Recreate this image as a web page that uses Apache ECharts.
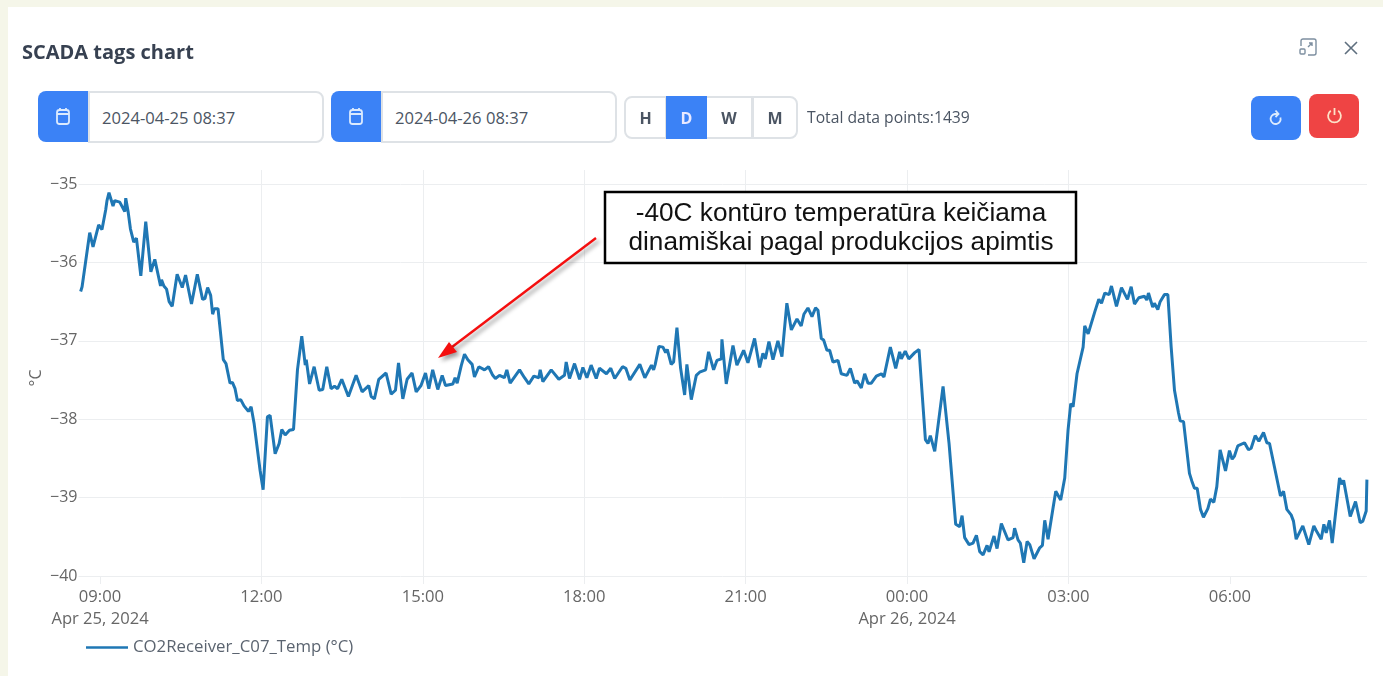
<!DOCTYPE html>
<html lang="en">
<head>
	<meta charset="UTF-8">
	<title>SCADA tags chart</title>
	<script src="https://cdn.jsdelivr.net/npm/echarts@6/dist/echarts.min.js"></script>
	<style>
		html, body {margin: 0; padding: 0; width: 1383px; height: 676px; overflow: hidden; background: #f5f6e9; font-family: "Open Sans", sans-serif;}
		.panel {position: absolute; left: 8px; top: 7px; width: 1375px; height: 669px; background: #fff;}
		#charts {position: absolute; left: 0; top: 0; width: 1383px; height: 676px;}
		.ui {position: absolute; box-sizing: border-box;}
		.title {left: 22px; top: 40px; font-size: 20px; font-weight: 700; color: #374151; line-height: 24px; white-space: nowrap;}
		.cal {width: 50px; height: 51px; top: 91px; background: #3b82f6; border-radius: 8px 0 0 8px; display: flex; align-items: center; justify-content: center;}
		.date {top: 91px; height: 52px; width: 236px; border: 2px solid #dee2e6; border-radius: 0 8px 8px 0; font-size: 16.6px; color: #4b5563; line-height: 49px; padding-left: 12px; background: #fff; white-space: nowrap;}
		.seg {top: 96px; height: 43px; border: 2px solid #dee2e6; display: flex; align-items: center; justify-content: center; font-size: 16px; font-weight: 700; color: #4b5563; background: #fff;}
		.total {left: 807px; top: 106px; font-size: 15.7px; color: #4b5563; line-height: 22px; white-space: nowrap;}
		.btn {border-radius: 8px; display: flex; align-items: center; justify-content: center;}
	</style>
</head>
<body>
<div class="panel"></div>
<div id="charts"></div>
<div class="ui title">SCADA tags chart</div>
<div class="ui cal" style="left:38px"><svg width="16" height="19" viewBox="0 0 16 19" fill="none" stroke="#dbeafe" stroke-width="1.8"><rect x="2" y="3" width="12" height="14" rx="2.5"/><path d="M2 7h12M5 1v3M11 1v3"/></svg></div>
<div class="ui date" style="left:88px">2024-04-25 08:37</div>
<div class="ui cal" style="left:331px"><svg width="16" height="19" viewBox="0 0 16 19" fill="none" stroke="#dbeafe" stroke-width="1.8"><rect x="2" y="3" width="12" height="14" rx="2.5"/><path d="M2 7h12M5 1v3M11 1v3"/></svg></div>
<div class="ui date" style="left:381px">2024-04-26 08:37</div>
<div class="ui seg" style="left:624px;width:43px;border-radius:8px 0 0 8px">H</div>
<div class="ui seg" style="left:666px;width:41px;background:#3b82f6;border-color:#3b82f6;color:#e8e8ff">D</div>
<div class="ui seg" style="left:707px;width:46px;border-left:0">W</div>
<div class="ui seg" style="left:752px;width:46px;border-radius:0 8px 8px 0">M</div>
<div class="ui total">Total data points:1439</div>
<div class="ui btn" style="left:1251px;top:96px;width:50px;height:44px;background:#3b82f6"><svg width="16" height="18" viewBox="0 0 16 18" fill="none" stroke="#dbeafe" stroke-width="1.8"><path d="M12.4 8.5A5 5 0 1 1 7 5h3"/><path d="M7.5 1.5L10.5 5 7.5 8" /></svg></div>
<div class="ui btn" style="left:1309px;top:94px;width:50px;height:44px;background:#ef4444"><svg width="17" height="18" viewBox="0 0 17 18" fill="none" stroke="#fde2c8" stroke-width="1.8"><path d="M8.5 1v7"/><path d="M4.8 3.8a6.4 6.4 0 1 0 7.4 0"/></svg></div>
<div class="ui" style="left:1299px;top:38px"><svg width="19" height="18" viewBox="0 0 19 18" fill="none" stroke="#7d8fa0" stroke-width="1.4"><path d="M2 8V3a2 2 0 0 1 2-2h11a2 2 0 0 1 2 2v12a2 2 0 0 1-2 2H9"/><rect x="1" y="11" width="5" height="5" rx="1"/><path d="M9 9l4-4M10 5h3v3"/></svg></div>
<div class="ui" style="left:1343px;top:39px"><svg width="16" height="16" viewBox="0 0 16 16" fill="none" stroke="#5f6f7f" stroke-width="1.6"><path d="M2 2l12 12M14 2L2 14"/></svg></div>
<script>
	// minutes after 2024-04-25 09:00
	var minutes = [
		-21.6,-20,-11.5,-7.8,-1.5,2.2,6.3,7.8,10,14.5,16.4,22,23.9,27.6,28.7,31.3,33.9,37.6,40.6,45.5,51,56.7,61.1,63,67.5,68.6,71.2,74.2,77.1,80.5,
		86,91.7,95.4,97.6,102,108.5,114.4,117,120,123.4,125.6,127.5,131.6,137.5,140.5,145,147.6,150.6,153.2,156.9,160.6,165.5,168.5,171.8,174,178.5,181.9,186.7,189.7,195.3,
		199.8,202.7,206.5,211.3,215.8,220.2,225,228.9,230,233.7,238.8,244.4,248.4,252.9,257.7,261.5,265,269.6,277,285.6,292.3,299.7,302.4,306,310.9,319,324.7,329.5,332.9,337.7,
		342.5,344.4,348,352.6,358,363,366.7,371,376.7,381.6,385.3,393.5,396,398.3,402.8,406.5,410.2,415,417.6,422.5,428.8,433.3,438,441,445.5,451,453.7,457.4,467.9,473.4,
		478.2,483.8,489.4,490.9,493.9,503.2,511.7,518,519.9,523.6,529.2,534.8,538.5,543,547.7,553.4,557,564.8,569.6,574,582.7,586.4,590.9,602,607.6,615,617.4,619.2,623.3,627.8,
		630.8,632.6,637,639.7,643.4,647.5,652,654.5,659.4,665,668.7,675.4,678.7,684.3,688,692.9,693.6,698.4,705.9,710.3,717.8,722.6,730,735.6,739.3,742,746,750.5,756,760.5,
		766,771,777.3,782,785,789.5,794,798,800.7,804.4,807,810.7,813.7,817.4,823,826.7,833,836.8,841.6,844.2,849,852.8,856.5,860.2,865.8,871.4,874.3,881.4,887.4,891.8,
		893.7,898,902,908.6,913.4,917.1,920.5,923.4,926,930.9,940.2,946.9,954.3,958.8,961.4,964.3,969.2,973.6,977.4,981.1,984.8,989.3,991.5,997,1000.4,1005.2,1012.7,1018.3,1020,1023.8,
		1026.4,1030.2,1033.9,1036.9,1038.7,1041.7,1048,1051,1053.6,1057.3,1059,1062.9,1065.9,1071.4,1075.9,1079.6,1082.6,1085.2,1089.6,1096.4,1098.2,1102,1109.4,1113.9,1116.9,1120.6,1125.4,1128,1133.6,1139.2,
		1145.9,1150,1153.7,1158.5,1164.8,1167.4,1169.3,1174,1175.9,1179.7,1182.3,1187.1,1190.9,1194.6,1198.3,1202.8,1204.7,1208.4,1215,1217.7,1220.6,1223.6,1227.3,1230.6,1235.5,1238.4,1242.2,1245.5,1249.2,1251,
		1255.2,1259.6,1262.6,1265.2,1268.9,1276.4,1280.8,1283.8,1288.3,1292.4,1297.6,1301.3,1304.3,1309.8,1311.7,1316.5,1319.9,1323.6,1328.4,1331,1334,1341.4,1348.1,1353.7,1356.3,1361.9,1364.9,1367.5,1371.2,1374.2,
		1382.4,1385,1386.9,1389.8,1394.3,1400.2,1405.4,1408.4,1412.1,1412.9
	];
	var tempValues = [
		-36.37,-36.31,-35.62,-35.80,-35.52,-35.58,-35.33,-35.21,-35.11,-35.28,-35.21,-35.23,-35.25,-35.35,-35.18,-35.35,-35.57,-35.74,-35.69,-36.17,-35.48,-36.12,-35.96,-35.97,-36.30,-36.22,-36.30,-36.34,-36.50,-36.56,
		-36.15,-36.32,-36.16,-36.15,-36.53,-36.15,-36.47,-36.46,-36.32,-36.42,-36.66,-36.59,-36.59,-37.24,-37.29,-37.54,-37.53,-37.61,-37.76,-37.75,-37.83,-37.90,-37.84,-38.05,-38.05,-38.65,-38.90,-37.97,-37.95,-38.44,
		-38.31,-38.13,-38.20,-38.14,-38.13,-37.37,-36.94,-37.31,-37.24,-37.55,-37.33,-37.63,-37.62,-37.33,-37.61,-37.58,-37.61,-37.49,-37.71,-37.44,-37.65,-37.57,-37.71,-37.74,-37.49,-37.41,-37.68,-37.63,-37.28,-37.74,
		-37.49,-37.47,-37.41,-37.65,-37.57,-37.41,-37.61,-37.37,-37.62,-37.44,-37.57,-37.55,-37.47,-37.54,-37.32,-37.17,-37.24,-37.30,-37.46,-37.33,-37.37,-37.33,-37.44,-37.48,-37.44,-37.47,-37.37,-37.54,-37.37,-37.47,
		-37.55,-37.45,-37.47,-37.37,-37.52,-37.37,-37.49,-37.44,-37.27,-37.48,-37.29,-37.49,-37.34,-37.47,-37.31,-37.48,-37.35,-37.42,-37.35,-37.48,-37.33,-37.35,-37.50,-37.30,-37.47,-37.31,-37.37,-37.30,-37.07,-37.08,
		-37.15,-37.11,-37.30,-37.27,-36.83,-37.35,-37.69,-37.30,-37.75,-37.44,-37.40,-37.37,-37.14,-37.37,-37.25,-37.23,-36.98,-37.55,-37.06,-37.31,-37.12,-37.28,-36.97,-37.34,-37.16,-37.23,-37.01,-37.24,-37.00,-37.20,
		-36.52,-36.86,-36.72,-36.81,-36.66,-36.58,-36.69,-36.58,-36.61,-36.97,-36.99,-37.12,-37.12,-37.27,-37.25,-37.42,-37.44,-37.35,-37.54,-37.51,-37.60,-37.42,-37.54,-37.54,-37.45,-37.42,-37.46,-37.08,-37.35,-37.14,
		-37.23,-37.13,-37.23,-37.15,-37.11,-37.71,-38.26,-38.31,-38.21,-38.41,-37.58,-38.31,-39.34,-39.37,-39.23,-39.51,-39.60,-39.58,-39.48,-39.69,-39.73,-39.61,-39.69,-39.49,-39.65,-39.33,-39.54,-39.51,-39.39,-39.54,
		-39.58,-39.83,-39.56,-39.60,-39.58,-39.78,-39.64,-39.61,-39.29,-39.53,-39.53,-39.13,-38.92,-39.03,-38.75,-38.14,-37.80,-37.84,-37.42,-37.08,-36.81,-36.91,-36.63,-36.47,-36.52,-36.39,-36.41,-36.30,-36.56,-36.32,
		-36.47,-36.31,-36.53,-36.45,-36.43,-36.48,-36.39,-36.57,-36.52,-36.60,-36.50,-36.41,-36.41,-37.08,-37.63,-37.92,-38.02,-38.03,-38.69,-38.79,-38.88,-38.88,-39.15,-39.25,-39.14,-39.02,-39.06,-38.86,-38.39,-38.39,
		-38.66,-38.40,-38.51,-38.47,-38.34,-38.30,-38.39,-38.37,-38.21,-38.28,-38.17,-38.30,-38.31,-38.61,-38.62,-38.98,-38.92,-39.15,-39.22,-39.30,-39.53,-39.36,-39.60,-39.36,-39.42,-39.53,-39.34,-39.45,-39.29,-39.58,
		-38.75,-38.83,-38.78,-38.96,-39.24,-39.05,-39.32,-39.30,-39.17,-38.77
	];
	var seriesName = 'CO2Receiver_C07_Temp (°C)';
	var tickMinutes = [0, 180, 360, 540, 720, 900, 1080, 1260];
	var tickLabels = ['09:00\nApr 25, 2024', '12:00', '15:00', '18:00', '21:00', '00:00\nApr 26, 2024', '03:00', '06:00'];

	var seriesData = [];
	for (var i = 0; i < minutes.length; i++) {
		seriesData.push([minutes[i], tempValues[i]]);
	}

	var charts = echarts.init(document.getElementById('charts'), null, {renderer: 'canvas'});
	charts.setOption({
		animation: false,
		textStyle: {fontFamily: '"Open Sans", sans-serif'},
		grid: {left: 78.5, right: 16, top: 170, bottom: 100},
		legend: {
			left: 86,
			top: 639,
			padding: 0,
			icon: 'path://M0 0H42V2.4H0Z',
			itemWidth: 42,
			itemHeight: 3,
			itemGap: 9,
			textStyle: {color: '#5b6470', fontSize: 16.8, fontFamily: '"Open Sans", sans-serif'},
			data: [seriesName]
		},
		xAxis: {
			type: 'value',
			min: -24,
			max: 1413,
			axisLine: {show: false},
			axisTick: {show: true, length: 8, customValues: tickMinutes, lineStyle: {color: '#eceef0', width: 1}},
			splitLine: {show: true, showMinLine: false, showMaxLine: false, lineStyle: {color: '#eceef0', width: 1}},
			axisLabel: {
				customValues: tickMinutes,
				color: '#666',
				fontSize: 16.6,
				lineHeight: 22,
				margin: 10,
				hideOverlap: false,
				formatter: function (value) {
					return tickLabels[tickMinutes.indexOf(value)];
				}
			}
		},
		yAxis: {
			type: 'value',
			min: -40,
			max: -34.82,
			interval: 1,
			name: '°C',
			nameLocation: 'middle',
			nameGap: 34,
			nameMoveOverlap: false,
			nameTextStyle: {color: '#666', fontSize: 16, padding: [0, 10, 0, 0]},
			axisLine: {show: false},
			axisTick: {show: false},
			splitLine: {show: true, showMaxLine: false, lineStyle: {color: '#eceef0', width: 1}},
			axisLabel: {
				showMaxLabel: false,
				color: '#666',
				fontSize: 16,
				margin: 1,
				formatter: function (value) {
					return String(value).replace('-', '\u2212');
				}
			}
		},
		series: [{
			name: seriesName,
			type: 'line',
			showSymbol: false,
			symbol: 'none',
			lineStyle: {color: '#1f77b4', width: 3},
			itemStyle: {color: '#1f77b4'},
			data: seriesData
		}],
		graphic: [
			{
				type: 'rect',
				z: 100,
				shape: {x: 605, y: 192, width: 471, height: 71},
				style: {fill: '#fff', stroke: '#000', lineWidth: 2.5}
			},
			{
				type: 'text',
				z: 101,
				x: 841,
				y: 228,
				style: {
					text: '-40C kontūro temperatūra keičiama\ndinamiškai pagal produkcijos apimtis',
					fill: '#111',
					font: '26.2px "Liberation Sans"',
					lineHeight: 29,
					align: 'center',
					verticalAlign: 'middle'
				}
			},
			{
				type: 'line',
				z: 100,
				shape: {x1: 596, y1: 238, x2: 452, y2: 347},
				style: {stroke: '#f40f0f', lineWidth: 2.4, shadowColor: 'rgba(0,0,0,0.4)', shadowBlur: 4, shadowOffsetX: 3, shadowOffsetY: 3}
			},
			{
				type: 'polygon',
				z: 100,
				shape: {points: [[438, 358], [449, 342], [457, 352]]},
				style: {fill: '#f40f0f', shadowColor: 'rgba(0,0,0,0.4)', shadowBlur: 4, shadowOffsetX: 3, shadowOffsetY: 3}
			}
		]
	});
</script>
</body>
</html>
